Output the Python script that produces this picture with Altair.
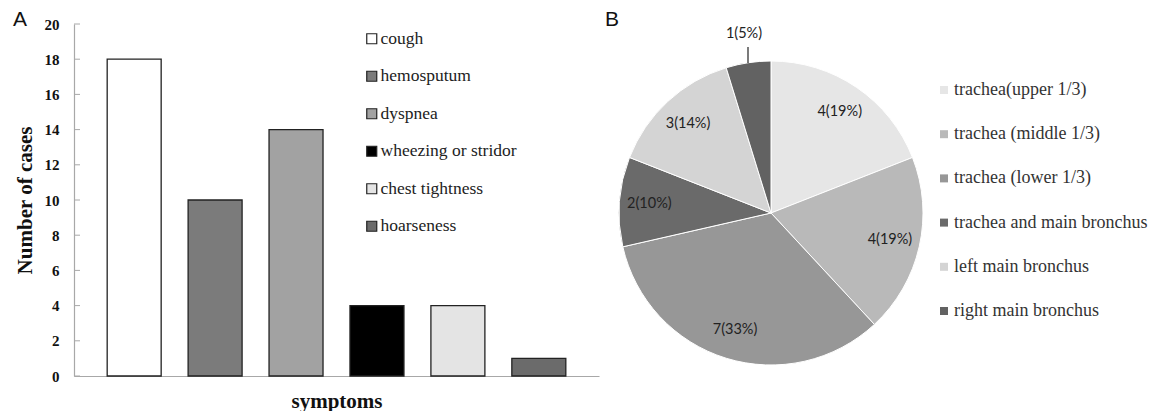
import altair as alt
import pandas as pd

# ---- Panel A data ----
symptoms = ["cough", "hemosputum", "dyspnea", "wheezing or stridor", "chest tightness", "hoarseness"]
cases = [18, 10, 14, 4, 4, 1]
bar_colors = ["#ffffff", "#7b7b7b", "#a2a2a2", "#000000", "#e4e4e4", "#6b6b6b"]
y_ticks = [0, 2, 4, 6, 8, 10, 12, 14, 16, 18, 20]

# ---- Panel B data ----
sites = ["trachea(upper 1/3)", "trachea (middle 1/3)", "trachea (lower 1/3)",
         "trachea and main  bronchus", "left main bronchus", "right main bronchus"]
site_counts = [4, 4, 7, 2, 3, 1]
site_labels = ["4(19%)", "4(19%)", "7(33%)", "2(10%)", "3(14%)", "1(5%)"]
pie_colors = ["#e6e6e6", "#b9b9b9", "#979797", "#6a6a6a", "#d4d4d4", "#626262"]

panel_letters = ["A", "B"]

bars_df = pd.DataFrame({"symptom": symptoms, "cases": cases})
ticks_df = pd.DataFrame({"v": y_ticks})
pie_df = pd.DataFrame({"site": sites, "count": site_counts, "label": site_labels,
                       "idx": list(range(len(sites)))})

SERIF = "Liberation Serif"

y_axis = alt.Axis(values=y_ticks, tickSize=0, labelPadding=15, grid=False,
                  labelOverlap=False, tickCount=11,
                  labelFont=SERIF, labelFontSize=15, labelFontWeight="bold",
                  labelColor="#111111", domainColor="#a8a8a8", domainWidth=1.2,
                  title="Number of cases", titleFont=SERIF, titleFontSize=21,
                  titleFontWeight="bold", titleColor="#111111", titlePadding=9)
y_scale = alt.Scale(domain=[0, 20], nice=False)

bars = alt.Chart(bars_df).mark_bar(stroke="#222222", strokeWidth=1.3).encode(
    x=alt.X("symptom:N", sort=symptoms,
            scale=alt.Scale(paddingInner=0.333, paddingOuter=0.41),
            axis=alt.Axis(labels=False, ticks=False, domainColor="#a8a8a8", domainWidth=1.2,
                          title="symptoms", titleFont=SERIF, titleFontSize=21,
                          titleFontWeight="bold", titleColor="#111111", titlePadding=14)),
    y=alt.Y("cases:Q", scale=y_scale, axis=y_axis),
    color=alt.Color("symptom:N", sort=symptoms,
                    scale=alt.Scale(domain=symptoms, range=bar_colors),
                    legend=alt.Legend(orient="none", legendX=289, legendY=6, title=None,
                                      symbolType="square", symbolSize=100,
                                      symbolStrokeColor="#222222", symbolStrokeWidth=1.2,
                                      labelFont=SERIF, labelFontSize=17.5, labelColor="#222222",
                                      labelOffset=0, rowPadding=18.5, padding=0)),
)

tick_rules = alt.Chart(ticks_df).mark_rule(color="#a8a8a8", strokeWidth=1).encode(
    x=alt.value(0), x2=alt.value(6), y=alt.Y("v:Q", scale=y_scale, axis=y_axis)
)

CX, CY = 697, 189

pie = alt.Chart(pie_df).mark_arc(outerRadius=152, stroke="#ffffff", strokeWidth=1).encode(
    theta=alt.Theta("count:Q", stack=True),
    order=alt.Order("idx:Q"),
    color=alt.Color("site:N", sort=sites,
                    scale=alt.Scale(domain=sites, range=pie_colors),
                    legend=alt.Legend(orient="none", legendX=861, legendY=57, title=None,
                                      symbolType="square", symbolSize=64, symbolStrokeWidth=0,
                                      labelFont=SERIF, labelFontSize=18, labelColor="#333333",
                                      labelOffset=1, rowPadding=26.2, padding=0,
                                      labelLimit=300)),
    x=alt.value(CX), y=alt.value(CY),
)

pie_text = alt.Chart(pie_df).mark_text(
    font="Lato", fontSize=14.5, color="#222222",
    radius=alt.expr("datum.count < 2 ? 181 : 122"),
).encode(
    theta=alt.Theta("count:Q", stack=True),
    order=alt.Order("idx:Q"),
    text="label:N",
    x=alt.value(CX), y=alt.value(CY),
)

leader = alt.Chart(pd.DataFrame({"k": [0]})).mark_rule(color="#333333", strokeWidth=1.3).encode(
    x=alt.value(674), y=alt.value(23), y2=alt.value(39)
)

letters_df = pd.DataFrame({"t": panel_letters, "px": [-61, 531]})
letters = alt.Chart(letters_df).mark_text(
    font="Liberation Sans", fontSize=21, align="left", baseline="middle", color="#111111"
).encode(
    text="t:N", x=alt.X("px:Q", scale=None), y=alt.value(-4)
)

chart = alt.layer(bars, tick_rules, pie, pie_text, leader, letters).resolve_scale(
    color="independent", x="independent"
).resolve_legend(color="independent").properties(
    width=525, height=352,
    autosize=alt.AutoSizeParams(type="none"),
    padding={"left": 66, "top": 16, "right": 554, "bottom": 35},
    background="white",
).configure_view(stroke=None)

chart.save("out.html", embed_options={"renderer": "svg", "actions": False})
